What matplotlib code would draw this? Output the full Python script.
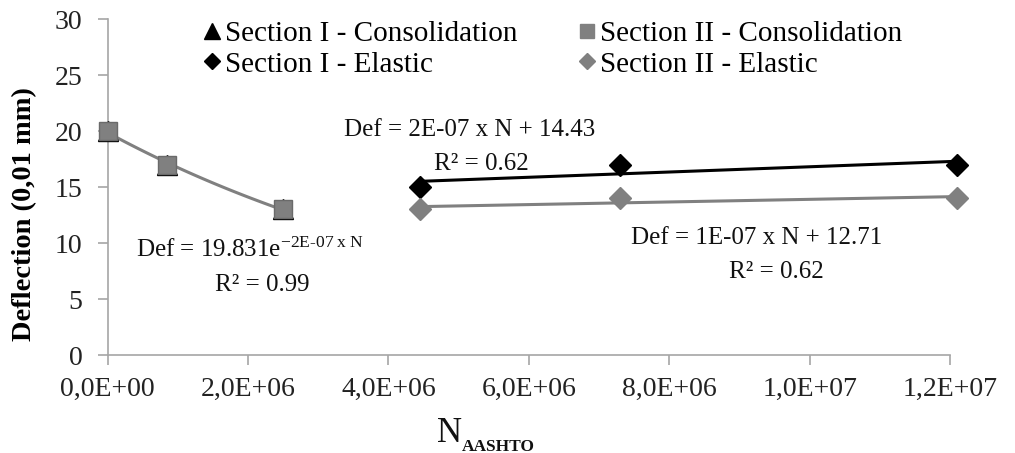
import numpy as np
import matplotlib
matplotlib.use("Agg")
import matplotlib.pyplot as plt
from matplotlib.lines import Line2D

# ──────────── Datos ────────────
n_cons = [0.0, 0.85e6, 2.5e6]
def_cons_I = [20, 17, 13]
def_cons_II = [20, 17, 13]

n_el = [4.45e6, 7.3e6, 1.21e7]
def_el_I = [15, 17, 17]
def_el_II = [13, 14, 14]

x_ticks = [0, 2e6, 4e6, 6e6, 8e6, 1e7, 1.2e7]
x_tick_labels = ["0,0E+00", "2,0E+06", "4,0E+06", "6,0E+06", "8,0E+06", "1,0E+07", "1,2E+07"]
y_ticks = [0, 5, 10, 15, 20, 25, 30]

# ──────────── Estilo ────────────
plt.rcParams["font.family"] = ["Liberation Serif", "DejaVu Serif"]
plt.rcParams["mathtext.fontset"] = "custom"
plt.rcParams["mathtext.rm"] = "Liberation Serif"
plt.rcParams["mathtext.it"] = "Liberation Serif:italic"
plt.rcParams["mathtext.bf"] = "Liberation Serif:bold"

GRAY = "#808080"
AXIS = "#a6a6a6"
TXT = "#111111"

fig = plt.figure(figsize=(10.15, 4.53), dpi=100)
ax = fig.add_axes([0.106, 0.216, 0.830, 0.742])

# Series de consolidación (triángulos tapados por los cuadrados)
ax.plot(n_cons, def_cons_I, linestyle="none", marker="^", color="black", markersize=14.5,
        zorder=3, clip_on=False)
ax.plot(n_cons, def_cons_II, linestyle="none", marker="s", color=GRAY, markersize=12.5,
        markeredgecolor="#6a6a6a", zorder=4, clip_on=False)

# Series elásticas
ax.plot(n_el, def_el_I, linestyle="none", marker="D", color="black", markersize=11.5,
        zorder=4, clip_on=False)
ax.plot(n_el, def_el_II, linestyle="none", marker="D", color=GRAY, markersize=11.5,
        zorder=4, clip_on=False)

# ──────────── Líneas de tendencia ────────────
xc = np.linspace(min(n_cons), max(n_cons), 100)
b, a = np.polyfit(n_cons, np.log(def_cons_II), 1)
ax.plot(xc, np.exp(a) * np.exp(b * xc), color=GRAY, lw=2.2, zorder=2, clip_on=False)

xe = np.linspace(min(n_el), max(n_el), 2)
m1, c1 = np.polyfit(n_el, def_el_I, 1)
ax.plot(xe, m1 * xe + c1, color="black", lw=2.2, zorder=2, clip_on=False)
m2, c2 = np.polyfit(n_el, def_el_II, 1)
ax.plot(xe, m2 * xe + c2, color=GRAY, lw=2.2, zorder=2, clip_on=False)

# ──────────── Ejes ────────────
ax.set_xlim(0, 1.2e7)
ax.set_ylim(0, 30)
ax.set_xticks(x_ticks)
ax.set_xticklabels(x_tick_labels)
ax.set_yticks(y_ticks)
for s in ["top", "right"]:
    ax.spines[s].set_visible(False)
for s in ["left", "bottom"]:
    ax.spines[s].set_color(AXIS)
    ax.spines[s].set_linewidth(1.2)
ax.tick_params(axis="both", colors=AXIS, labelsize=20, length=7, width=1.2)
ax.tick_params(axis="x", pad=9)
ax.tick_params(axis="y", pad=11)
for t in ax.get_xticklabels() + ax.get_yticklabels():
    t.set_color("#222222")

ax.set_ylabel("Deflection (0,01 mm)", fontsize=20.5, fontweight="bold")
ax.yaxis.set_label_coords(-0.084, 0.42)
fig.text(437 / 1015, 1 - 442 / 453, "N", fontsize=25, color=TXT, ha="left", va="baseline")
fig.text(462 / 1015, 1 - 451 / 453, "AASHTO", fontsize=12.5, fontweight="bold", color=TXT,
         ha="left", va="baseline")

# ──────────── Ecuaciones ────────────
ax.text(5.16e6, 20.1, "Def = 2E-07 x N + 14.43", fontsize=18, ha="center", va="center", color=TXT)
ax.text(5.33e6, 17.1, "R² = 0.62", fontsize=18, ha="center", va="center", color=TXT)
ax.text(9.25e6, 10.45, "Def = 1E-07 x N + 12.71", fontsize=18, ha="center", va="center", color=TXT)
ax.text(9.53e6, 7.4, "R² = 0.62", fontsize=18, ha="center", va="center", color=TXT)
ax.text(0.41e6, 9.4, r"Def = 19.831e$^{\mathrm{-2E\text{-}07\ x\ N}}$", fontsize=18,
        ha="left", va="center", color=TXT)
ax.text(2.21e6, 6.3, "R² = 0.99", fontsize=18, ha="center", va="center", color=TXT)

# ──────────── Leyenda ────────────
handles = [
    Line2D([], [], linestyle="none", marker="^", color="black", markersize=11),
    Line2D([], [], linestyle="none", marker="D", color="black", markersize=8),
    Line2D([], [], linestyle="none", marker="s", color=GRAY, markersize=10),
    Line2D([], [], linestyle="none", marker="D", color=GRAY, markersize=8),
]
labels = ["Section I - Consolidation", "Section I - Elastic",
          "Section II - Consolidation", "Section II - Elastic"]
fig.legend(handles, labels, ncol=2, loc="upper left", bbox_to_anchor=(0.2, 0.955),
           frameon=False, fontsize=21, handlelength=0.6, handletextpad=0.15,
           columnspacing=2.1, labelspacing=0.15, borderaxespad=0, borderpad=0)

fig.savefig("out.png", dpi=100)
